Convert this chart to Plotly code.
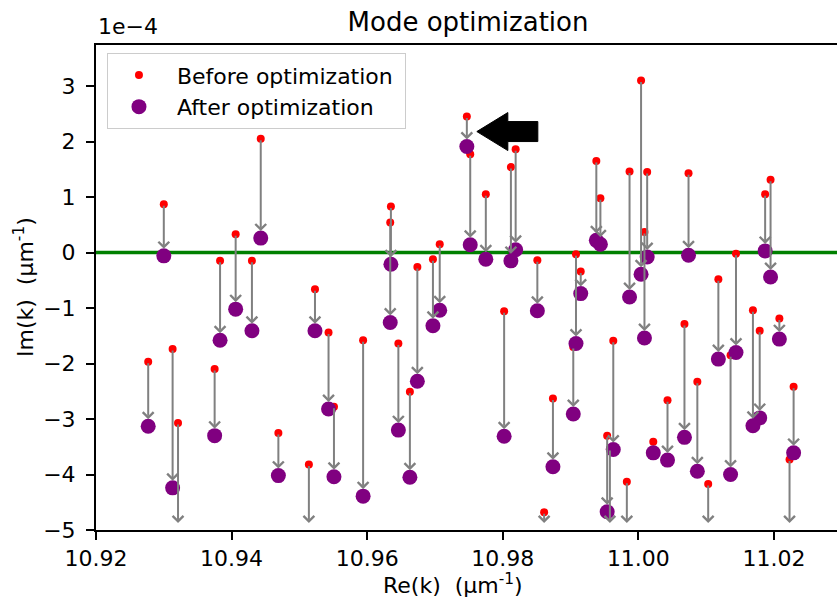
import plotly.graph_objects as go

# ---- data (Im values in units of 1e-4 um^-1) ----
re_k = [10.9277, 10.9300, 10.9313, 10.9321, 10.9375, 10.9383, 10.9406, 10.9430, 10.9443, 10.9469,
        10.9514, 10.9523, 10.9543, 10.9551, 10.9594, 10.9635, 10.9634, 10.9646, 10.9663, 10.9674,
        10.9697, 10.9707, 10.9747, 10.9752, 10.9775, 10.9802, 10.9812, 10.9819, 10.9851, 10.9861,
        10.9874, 10.9908, 10.9904, 10.9915, 10.9938, 10.9944, 10.9954, 10.9958, 10.9963, 10.9983,
        10.9987, 11.0004, 11.0009, 11.0013, 11.0022, 11.0043, 11.0068, 11.0074, 11.0087, 11.0103,
        11.0118, 11.0136, 11.0144, 11.0169, 11.0179, 11.0187, 11.0195, 11.0208, 11.0223, 11.0229]
im_before = [-1.97, 0.87, -1.74, -3.07, -2.10, -0.15, 0.33, -0.15, 2.05, -3.25,
             -3.82, -0.66, -1.44, -2.78, -1.58, 0.83, 0.54, -1.64, -2.51, -0.26,
             -0.12, 0.15, 2.45, 1.77, 1.05, -1.06, 1.54, 1.86, -0.14, -4.68,
             -2.63, -0.03, -1.70, -0.34, 1.65, 0.98, -3.30, -3.54, -1.59, -4.13,
             1.46, 3.10, 0.37, 1.45, -3.41, -2.66, -1.29, 1.43, -2.33, -4.17,
             -0.48, -1.85, -0.02, -1.04, -1.41, 1.05, 1.31, -1.19, -3.73, -2.42]
im_after = [-3.13, -0.06, -4.24, -5.40, -3.30, -1.58, -1.02, -1.41, 0.26, -4.02,
            -5.50, -1.41, -2.82, -4.04, -4.39, -0.21, -1.26, -3.20, -4.05, -2.32,
            -1.32, -1.04, 1.91, 0.14, -0.12, -3.31, -0.15, 0.05, -1.05, -5.30,
            -3.86, -1.64, -2.91, -0.74, 0.22, 0.15, -4.67, -5.40, -3.55, -5.40,
            -0.80, -0.39, -1.54, -0.08, -3.61, -3.74, -3.33, -0.05, -3.94, -5.40,
            -1.92, -4.00, -1.80, -3.12, -2.98, 0.03, -0.44, -1.56, -5.40, -3.61]
highlight_index = 22  # mode marked by the black arrow

SCALE = 1e-4
x_ticks = [10.92, 10.94, 10.96, 10.98, 11.00, 11.02]
x_tick_text = ["10.92", "10.94", "10.96", "10.98", "11.00", "11.02"]
y_ticks = [-5, -4, -3, -2, -1, 0, 1, 2, 3]
x_range = [10.92, 11.0293]
y_range = [-5.0, 3.74]

FONT = "DejaVu Sans"
GRAY = "#808080"
NB = "\u00a0"

fig = go.Figure()

# zero line
fig.add_shape(type="line", xref="paper", yref="y", x0=0, x1=1, y0=0, y1=0,
              line=dict(color="#008000", width=3.5), layer="below")

fig.add_trace(go.Scatter(x=re_k, y=[v * SCALE for v in im_before], mode="markers",
                         marker=dict(color="#ff0000", size=8, line=dict(width=0)),
                         name=NB + "Before optimization" + NB, cliponaxis=True))
fig.add_trace(go.Scatter(x=re_k, y=[v * SCALE for v in im_after], mode="markers",
                         marker=dict(color="#800080", size=15, line=dict(width=0)),
                         name=NB + "After optimization", cliponaxis=True))

# arrows before -> after
ymin = y_range[0]
for xv, b, a in zip(re_k, im_before, im_after):
    head = max(a, ymin)
    fig.add_annotation(x=xv, y=head * SCALE, ax=xv, ay=b * SCALE,
                       xref="x", yref="y", axref="x", ayref="y",
                       text="", showarrow=True, arrowhead=4, arrowsize=1.05,
                       arrowwidth=2, arrowcolor=GRAY, standoff=7, startstandoff=0)

# black pointer arrow next to the highlighted mode
fig.add_shape(type="path", xref="x", yref="y",
              xsizemode="pixel", ysizemode="pixel",
              xanchor=re_k[highlight_index], yanchor=im_after[highlight_index] * SCALE,
              path="M10,15 L41,34 L41,25 L71,25 L71,5 L41,5 L41,-4 Z",
              fillcolor="black", line=dict(color="black", width=1))

tick_font = dict(family=FONT, size=22, color="black")
fig.update_layout(
    width=837, height=599,
    margin=dict(l=96, r=0, t=45, b=69),
    plot_bgcolor="white", paper_bgcolor="white",
    font=dict(family=FONT, size=22, color="black"),
    title=dict(text="Mode optimization", x=468 / 837, xanchor="center", xref="container",
               y=1 - 22 / 599, yanchor="middle", yref="container",
               font=dict(family=FONT, size=26, color="black")),
    showlegend=True,
    legend=dict(x=0.0148, y=0.983, xanchor="left", yanchor="top",
                bgcolor="rgba(255,255,255,0.8)", bordercolor="#cccccc", borderwidth=1,
                font=dict(family=FONT, size=22, color="black"), itemwidth=52,
                tracegroupgap=0),
    xaxis=dict(range=x_range, tickvals=x_ticks, ticktext=x_tick_text,
               showgrid=False, zeroline=False, showline=True, linecolor="black", linewidth=2,
               mirror=True, ticks="outside", ticklen=8, tickwidth=2, tickcolor="black",
               tickfont=tick_font, ticklabelstandoff=0),
    yaxis=dict(range=[v * SCALE for v in y_range], tickvals=[t * SCALE for t in y_ticks],
               ticktext=[(("\u2212" + str(-t)) if t < 0 else str(t)) for t in y_ticks],
               showgrid=False, zeroline=False, showline=True, linecolor="black", linewidth=2,
               mirror=False, ticks="outside", ticklen=8, tickwidth=2, tickcolor="black",
               tickfont=tick_font, ticklabelstandoff=6),
)

# offset text and axis labels
fig.add_annotation(text="1e\u22124", xref="paper", yref="paper", x=0, y=1.0, yshift=4,
                   xanchor="left", yanchor="bottom", showarrow=False,
                   font=dict(family=FONT, size=22, color="black"))
fig.add_annotation(text="Re(k) " + NB + "(\u03bcm<sup>-1</sup>)", xref="paper", yref="paper",
                   x=(453 - 96) / 741, y=-(584 - 530) / 485, xanchor="center", yanchor="middle",
                   showarrow=False, font=dict(family=FONT, size=22, color="black"))
fig.add_annotation(text="Im(k) " + NB + "(\u03bcm<sup>-1</sup>)", xref="paper", yref="paper",
                   x=-(96 - 24) / 741, y=(530 - 287) / 485, xanchor="center", yanchor="middle",
                   textangle=-90, showarrow=False, font=dict(family=FONT, size=22, color="black"))

fig.write_html("out.html")
